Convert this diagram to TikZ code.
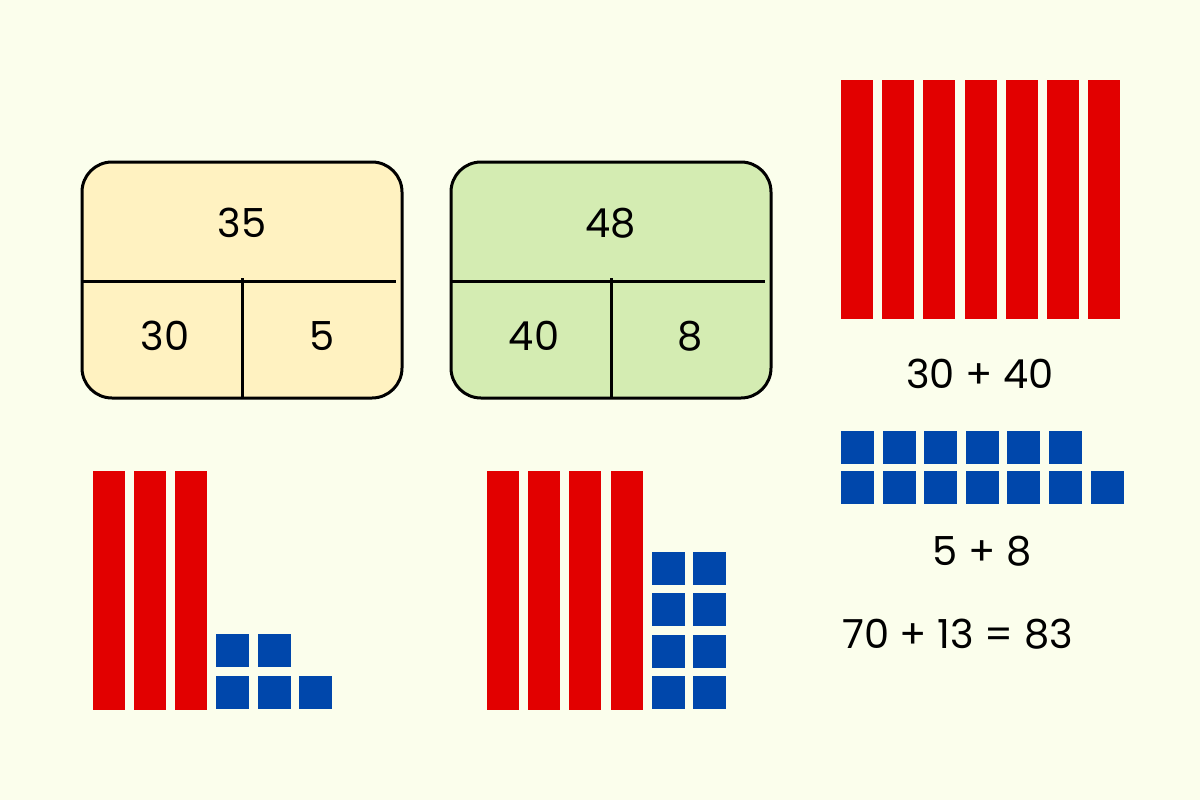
\documentclass[tikz,border=0pt]{standalone}
\usepackage{fontspec}
\setmainfont{Poppins}
\definecolor{bg}{HTML}{FBFEEC}
\definecolor{boxy}{HTML}{FFF2C1}
\definecolor{boxg}{HTML}{D4ECB2}
\definecolor{rodred}{HTML}{E20000}
\definecolor{cubeblue}{HTML}{0047AB}
\tikzset{
  partbox/.style={draw=black, line width=3pt, rounded corners=30pt},
  divider/.style={draw=black, line width=3pt},
  num/.style={inner sep=0pt, font=\fontsize{40}{48}\selectfont, text=black},
  rod/.style={fill=rodred},
  cube/.style={fill=cubeblue},
}
\newcommand{\rodat}[2]{\fill[rod] (#1,#2) rectangle ++(32,239);}
\newcommand{\cubeat}[2]{\fill[cube] (#1,#2) rectangle ++(33,33);}
\begin{document}
\begin{tikzpicture}[x=1pt,y=-1pt]
\fill[bg] (0,0) rectangle (1200,800);
\useasboundingbox (0,0) rectangle (1200,800);
% box 35
\draw[partbox, fill=boxy] (82,162) rectangle (402,398);
\draw[divider] (82,281) -- (396,281);
\draw[divider] (242,278) -- (242,398);
\node[num] (n35) at (242,223) {35};
\node[num] (n30) at (165,336) {30};
\node[num] (n5) at (322,336) {5};
% box 48
\draw[partbox, fill=boxg] (451,162) rectangle (771,398);
\draw[divider] (451,281) -- (765,281);
\draw[divider] (611,278) -- (611,398);
\node[num] (n48) at (611,223) {48};
\node[num] (n40) at (534,336) {40};
\node[num] (n8) at (690,336) {8};
% top-right rods
\foreach \i in {0,...,6} {\rodat{841+41.2*\i}{80}}
\node[num] (s1) at (980,374) {30 + 40};
% cubes right
\foreach \i in {0,...,5} {\cubeat{841+41.6*\i}{431}}
\foreach \i in {0,...,6} {\cubeat{841+41.6*\i}{471}}
\node[num] (s2) at (982,551) {5 + 8};
\node[num, anchor=west] (s3) at (842,634) {70 + 13 = 83};
% bottom-left
\foreach \i in {0,...,2} {\rodat{93+41.2*\i}{471}}
\cubeat{216}{634}\cubeat{257.5}{634}
\cubeat{216}{676}\cubeat{257.5}{676}\cubeat{299}{676}
% bottom-middle
\foreach \i in {0,...,3} {\rodat{487+41.2*\i}{471}}
\foreach \j in {0,...,3} {\cubeat{652}{552+41.3*\j}\cubeat{693}{552+41.3*\j}}
\end{tikzpicture}
\end{document}
